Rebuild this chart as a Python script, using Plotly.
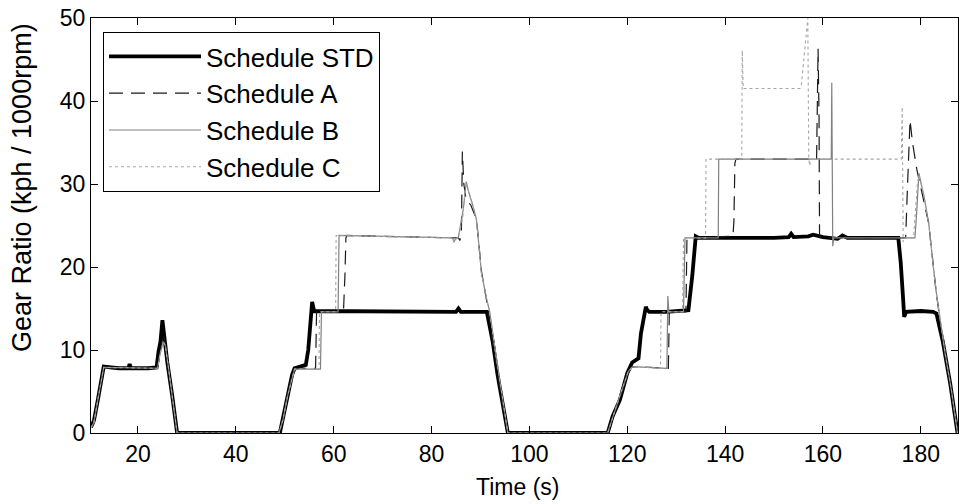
import plotly.graph_objects as go

# ---------------- data ----------------
STD_T = [10.4, 11.0, 11.8, 12.5, 13.0, 16.0, 18.0, 18.3, 18.6, 22.0, 23.8, 24.2, 24.6, 25.0, 25.3, 25.6, 26.0, 27.0, 28.0,
         49.0, 49.5, 50.5, 51.5, 52.0, 53.5, 54.3, 54.8, 55.4, 55.6, 56.0, 70.0, 85.0, 85.5, 86.0, 91.3, 92.5, 93.5, 94.5, 95.6,
         116.0, 117.0, 118.5, 120.0, 121.0, 122.3, 122.8, 123.8, 124.1, 124.5, 128.0, 132.5, 133.3, 134.0, 134.3, 134.6,
         150.0, 153.0, 153.5, 154.0, 157.0, 158.0, 160.0, 163.0, 164.0, 165.0, 175.4, 175.9, 176.4, 176.6, 177.0,
         180.0, 182.5, 183.2, 184.5, 186.0, 187.5]
STD_V = [0.7, 1.5, 4.0, 6.5, 8.0, 7.8, 7.8, 8.3, 7.8, 7.8, 7.9, 9.8, 11.0, 13.6, 12.0, 10.5, 8.5, 4.5, 0.0,
         0.0, 1.5, 4.5, 7.0, 7.8, 8.0, 8.2, 10.0, 14.0, 15.8, 14.7, 14.6, 14.6, 15.0, 14.6, 14.6, 11.0, 7.0, 3.5, 0.0,
         0.0, 2.0, 4.0, 7.2, 8.5, 9.0, 12.0, 15.2, 14.8, 14.6, 14.6, 14.8, 19.0, 23.7, 23.6, 23.5,
         23.5, 23.6, 24.0, 23.6, 23.7, 23.9, 23.6, 23.4, 23.8, 23.5, 23.5, 20.5, 16.0, 14.0, 14.6,
         14.7, 14.6, 14.4, 11.0, 6.0, 0.0]

A_T = [10.4, 11.0, 11.8, 12.5, 13.0, 24.0, 24.5, 25.2, 25.6, 26.2, 27.0, 28.0,
       48.8, 49.5, 50.5, 51.5, 52.0, 56.3, 56.5, 62.0, 62.1, 62.3, 62.5, 62.7, 85.5, 85.8, 86.1, 86.3, 86.6, 87.1, 88.0,
       89.2, 90.2, 91.3, 92.5, 93.5, 94.5, 95.6,
       116.0, 117.0, 118.5, 120.0, 121.0, 128.4, 128.6, 132.0, 132.2, 141.6, 141.8, 142.0, 142.2, 158.7, 158.9, 159.0,
       159.2, 159.3, 159.5, 176.9, 177.3, 177.8, 178.3, 179.2, 180.4, 181.6, 183.1, 183.7, 184.5, 186.0, 187.5]
A_V = [0.6, 1.3, 4.0, 6.5, 7.9, 7.8, 9.5, 12.0, 10.8, 8.3, 4.5, 0.0,
       0.0, 1.5, 4.5, 7.0, 7.8, 7.8, 14.6, 14.6, 17.5, 19.0, 23.5, 23.8, 23.5, 23.2, 24.0, 33.9, 30.0, 28.0, 27.5,
       25.7, 19.5, 15.8, 11.0, 7.0, 3.5, 0.0,
       0.0, 2.0, 4.0, 7.0, 8.0, 7.8, 14.6, 14.6, 23.5, 23.7, 25.5, 32.5, 33.0, 33.0, 40.0, 46.3,
       38.0, 24.0, 23.5, 23.5, 30.0, 37.7, 35.0, 31.7, 28.5, 25.3, 17.2, 14.8, 11.0, 6.0, 0.0]

B_T = [10.4, 11.0, 11.8, 12.5, 13.0, 24.0, 24.5, 25.2, 25.6, 26.2, 27.0, 28.0,
       48.8, 49.6, 50.6, 51.6, 52.0, 57.3, 57.5, 60.9, 61.1, 84.3, 84.6, 84.9, 85.5, 86.5, 87.1, 87.6, 88.4,
       89.2, 90.2, 91.3, 91.9, 93.0, 94.5, 95.6,
       116.0, 117.2, 118.5, 120.2, 121.1, 128.1, 128.3, 128.5, 131.5, 131.8, 138.6, 138.7, 161.7, 161.8, 161.9,
       162.0, 162.2, 178.8, 179.2, 179.6, 180.6, 181.6, 183.1, 183.7, 185.0, 186.3, 187.5]
B_V = [0.6, 1.3, 4.0, 6.5, 7.9, 7.8, 9.5, 11.0, 10.5, 8.0, 4.5, 0.0,
       0.0, 1.5, 4.5, 7.0, 7.7, 7.7, 14.6, 14.6, 23.8, 23.5, 23.0, 23.4, 23.6, 27.0, 30.3, 29.0, 27.5,
       25.7, 19.3, 16.0, 14.6, 10.0, 4.0, 0.0,
       0.0, 2.2, 4.5, 7.4, 8.0, 7.8, 16.5, 14.6, 14.6, 23.5, 23.5, 33.0, 33.0, 42.2, 33.0,
       22.5, 23.5, 23.5, 27.0, 31.3, 28.7, 25.3, 17.2, 14.8, 9.5, 5.0, 0.0]

C_T = [10.4, 11.0, 11.8, 12.5, 13.0, 24.0, 24.5, 25.2, 25.6, 26.2, 27.0, 28.0,
       48.8, 49.6, 50.6, 51.6, 52.0, 57.0, 57.1, 60.4, 60.5, 84.3, 84.6, 85.5, 86.4, 87.0, 87.6, 88.4,
       89.2, 90.2, 91.3, 91.9, 93.0, 94.5, 95.6,
       116.0, 117.2, 118.5, 120.2, 121.1, 126.8, 126.9, 131.3, 131.5, 136.0, 136.1, 143.4, 143.5, 143.7, 155.3,
       155.6, 156.5, 156.9, 157.1, 157.3, 157.5, 176.0, 176.2, 176.4, 176.8, 178.5, 179.3, 179.6, 180.6, 181.6,
       183.1, 183.7, 185.0, 186.3, 187.5]
C_V = [0.6, 1.3, 4.0, 6.5, 7.9, 7.8, 9.5, 11.0, 10.5, 8.0, 4.5, 0.0,
       0.0, 1.5, 4.5, 7.0, 7.7, 7.7, 14.6, 14.6, 23.8, 23.5, 23.0, 23.6, 26.0, 30.2, 29.0, 27.5,
       25.5, 19.3, 16.0, 14.6, 10.0, 4.0, 0.0,
       0.0, 2.2, 4.5, 7.4, 8.0, 7.8, 14.6, 14.6, 23.5, 23.5, 33.0, 33.0, 46.1, 41.5, 41.5,
       42.0, 48.0, 50.0, 33.0, 32.2, 33.0, 33.0, 39.3, 23.0, 23.5, 23.5, 30.0, 31.0, 28.7, 25.3,
       17.2, 14.8, 9.5, 5.0, 0.0]

NAMES = ["Schedule STD", "Schedule A", "Schedule B", "Schedule C"]
X_TICKS = [20, 40, 60, 80, 100, 120, 140, 160, 180]
Y_TICKS = [0, 10, 20, 30, 40, 50]
X_TITLE = "Time (s)"
Y_TITLE = "Gear Ratio (kph / 1000rpm)"

FONT = "Arial, Liberation Sans, sans-serif"

fig = go.Figure()
series = [(STD_T, STD_V, dict(color="black", width=3.8)),
          (A_T, A_V, dict(color="#1a1a1a", width=1.2, dash="14px,8px")),
          (B_T, B_V, dict(color="#808080", width=1.2)),
          (C_T, C_V, dict(color="#a6a6a6", width=1.1, dash="3px,3px"))]
for name, (t, v, ln) in zip(NAMES, series):
    assert len(t) == len(v), name
    fig.add_trace(go.Scatter(x=t, y=v, mode="lines", name=name, line=ln))

axis_common = dict(showgrid=False, zeroline=False, ticks="inside", ticklen=7, tickwidth=1,
                   tickcolor="black", showline=True, linecolor="black", linewidth=1, mirror="ticks",
                   automargin=False, tickfont=dict(family=FONT, size=23, color="black"))

fig.update_layout(
    width=962, height=504,
    margin=dict(l=91, r=4, t=18, b=71, autoexpand=False),
    paper_bgcolor="white", plot_bgcolor="white",
    font=dict(family=FONT, size=23, color="black"),
    xaxis=dict(range=[10.4, 187.6], tickvals=X_TICKS, **axis_common),
    yaxis=dict(range=[0, 50], tickvals=Y_TICKS, **axis_common),
    legend=dict(x=(103 - 91) / 867, y=(433 - 32) / 415, xanchor="left", yanchor="top", bgcolor="white",
                bordercolor="black", borderwidth=1, itemwidth=92,
                font=dict(family=FONT, size=26, color="black")),
    showlegend=True,
    annotations=[
        dict(text=X_TITLE, xref="paper", yref="paper", x=(517 - 91) / 867, y=-(487 - 433) / 415,
             xanchor="center", yanchor="middle", showarrow=False,
             font=dict(family=FONT, size=23, color="black")),
        dict(text=Y_TITLE, xref="paper", yref="paper", x=-(91 - 22) / 867, y=(433 - 188) / 415,
             xanchor="center", yanchor="middle", textangle=-90, showarrow=False,
             font=dict(family=FONT, size=27, color="black")),
    ],
)

fig.write_html("out.html", config={"displayModeBar": False},
               post_script="document.body.style.margin='0';document.body.style.overflow='hidden';")
